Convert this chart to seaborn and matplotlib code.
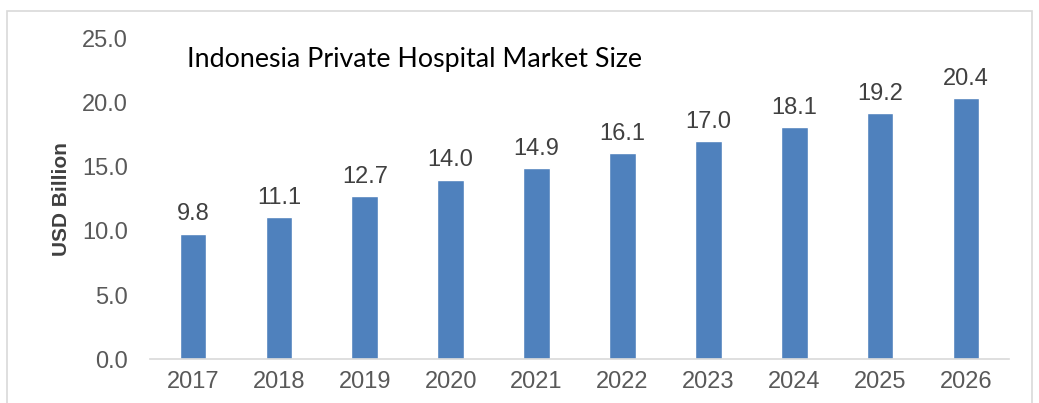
import pandas as pd
import numpy as np
import matplotlib.pyplot as plt
import seaborn as sns
from matplotlib.patches import Rectangle

years = ["2017", "2018", "2019", "2020", "2021", "2022", "2023", "2024", "2025", "2026"]
market_size = [9.8, 11.1, 12.7, 14.0, 14.9, 16.1, 17.0, 18.1, 19.2, 20.4]
y_ticks = [0, 5, 10, 15, 20, 25]

df = pd.DataFrame({"year": years, "size": market_size})

sns.set_style("white")
plt.rcParams['font.family'] = ['Liberation Sans', 'DejaVu Sans']

fig = plt.figure(figsize=(10.39, 4.03), dpi=100)
ax = fig.add_axes([150 / 1039, 44 / 403, 859 / 1039, 320 / 403])

sns.barplot(data=df, x="year", y="size", color="#4F81BD", width=0.31,
            saturation=1, ax=ax)

for i, v in enumerate(market_size):
    ax.annotate(f"{v:.1f}", (i, v), xytext=(0, 6), textcoords="offset points",
                ha="center", va="bottom", fontsize=17, color="#404040")

ax.set_ylim(0, 25)
ax.set_yticks(y_ticks)
ax.set_yticklabels([f"{t:.1f}" for t in y_ticks])
ax.set_xlim(-0.5, len(years) - 0.5)
ax.tick_params(axis="both", length=0, labelsize=17, labelcolor="#595959")
ax.tick_params(axis="y", pad=16)
ax.tick_params(axis="x", pad=9)
ax.set_xlabel("")
ax.set_ylabel("USD Billion", fontsize=15, fontweight="bold", color="#404040", labelpad=8)

for s in ["top", "right", "left"]:
    ax.spines[s].set_visible(False)
ax.spines["bottom"].set_color("#D9D9D9")
ax.spines["bottom"].set_linewidth(1.2)

fig.text(187 / 1039, 1 - 60 / 403, "Indonesia Private Hospital Market Size",
         fontsize=19.3, family=["Lato", "DejaVu Sans"], color="black", va="center", ha="left")

fig.patches.append(Rectangle((7 / 1039, -0.1), 1025 / 1039, 1.1 - 11 / 403,
                             transform=fig.transFigure, fill=False,
                             edgecolor="#D9D9D9", linewidth=1.2))

fig.savefig("out.png", dpi=100)
